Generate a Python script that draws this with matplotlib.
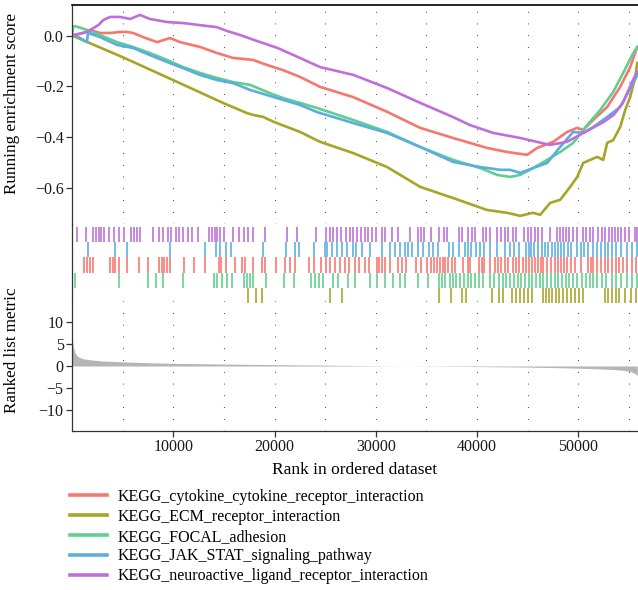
import matplotlib
matplotlib.use("Agg")
import matplotlib.pyplot as plt
from matplotlib.lines import Line2D

plt.rcParams['font.family'] = ['Liberation Serif', 'DejaVu Serif']

N_RANK = 55830

set_names = ["KEGG_cytokine_cytokine_receptor_interaction",
             "KEGG_ECM_receptor_interaction",
             "KEGG_FOCAL_adhesion",
             "KEGG_JAK_STAT_signaling_pathway",
             "KEGG_neuroactive_ligand_receptor_interaction"]
set_colors = ["#F8766D", "#A8A427", "#5FCF8F", "#5AAEDD", "#BF6FDB"]

# running enrichment score curves (rank, ES)
cyto_rank = [0, 1087, 1778, 2766, 3754, 4742, 5434, 6027, 7015, 8398, 9682, 10670, 12646,
             14326, 15907, 17883, 19266, 20847, 22526, 24502, 27763, 31122, 34382, 37643,
             41002, 42978, 44954, 45941, 47522, 48905, 49893, 50486, 51474, 52857, 54142,
             55130, 55830]
cyto_es = [0, 0.010, 0.022, 0.010, 0.010, 0.014, 0.014, 0.010, -0.006, -0.026, -0.010, -0.026,
           -0.045, -0.069, -0.088, -0.096, -0.116, -0.136, -0.163, -0.202, -0.242, -0.300,
           -0.363, -0.403, -0.442, -0.458, -0.469, -0.442, -0.418, -0.379, -0.363, -0.371,
           -0.332, -0.281, -0.202, -0.124, -0.045]

ecm_rank = [0, 4940, 9979, 14919, 17290, 17883, 18871, 19958, 22526, 24502, 27763, 31122,
            34382, 37643, 41002, 42978, 44262, 45546, 46238, 47225, 48214, 49202, 49893,
            50486, 51869, 52462, 52857, 53450, 54142, 54636, 55130, 55624, 55830]
ecm_es = [0, -0.084, -0.175, -0.265, -0.305, -0.312, -0.320, -0.340, -0.379, -0.418, -0.462,
          -0.517, -0.595, -0.639, -0.686, -0.697, -0.709, -0.697, -0.705, -0.658, -0.646,
          -0.595, -0.556, -0.501, -0.477, -0.489, -0.422, -0.411, -0.360, -0.293, -0.242,
          -0.163, -0.108]

focal_rank = [0, 99, 296, 1482, 2766, 4446, 6027, 7706, 9386, 10966, 12646, 14326, 15907,
              17586, 19266, 20847, 22526, 24206, 27763, 31122, 34382, 37643, 40310, 41990,
              43274, 44262, 45546, 46930, 48214, 49498, 50882, 52166, 53450, 54438, 55426,
              55830]
focal_es = [0, 0.035, 0.037, 0.022, 0.002, -0.026, -0.045, -0.069, -0.096, -0.124, -0.147,
            -0.167, -0.183, -0.194, -0.222, -0.246, -0.265, -0.285, -0.332, -0.379, -0.438,
            -0.489, -0.521, -0.548, -0.556, -0.548, -0.521, -0.489, -0.458, -0.422, -0.352,
            -0.293, -0.222, -0.147, -0.069, -0.045]

jak_rank = [0, 296, 1482, 1581, 2766, 4446, 6027, 7706, 9386, 10966, 12646, 14326, 15907,
            17586, 19266, 20847, 22526, 24206, 27763, 31122, 34382, 37643, 40310, 42286,
            43274, 44262, 45546, 46930, 48214, 49498, 50486, 51474, 52857, 54142, 55426,
            55830]
jak_es = [0, 0.002, -0.026, 0.010, -0.006, -0.037, -0.049, -0.077, -0.104, -0.128, -0.155,
          -0.175, -0.187, -0.214, -0.234, -0.253, -0.273, -0.301, -0.344, -0.383, -0.438,
          -0.497, -0.517, -0.528, -0.528, -0.540, -0.521, -0.501, -0.438, -0.379, -0.383,
          -0.360, -0.320, -0.281, -0.187, -0.155]

neuro_rank = [0, 1500, 2100, 2600, 3100, 3750, 4750, 5750, 6700, 7700, 9400, 11000, 12600,
              14300, 15300, 16600, 18600, 20300, 22500, 24500, 27800, 31100, 34400, 37600,
              39300, 41600, 44300, 45900, 47200, 48900, 50500, 52500, 53500, 54400, 55400,
              55830]
neuro_es = [0, 0.014, 0.029, 0.041, 0.061, 0.073, 0.073, 0.065, 0.081, 0.065, 0.053, 0.049,
            0.041, 0.033, 0.018, 0.002, -0.026, -0.049, -0.088, -0.124, -0.155, -0.206,
            -0.265, -0.320, -0.352, -0.383, -0.403, -0.418, -0.430, -0.418, -0.383, -0.340,
            -0.312, -0.265, -0.175, -0.143]

# gene hit positions (rank) for each set
cyto_hits = [1192, 1448, 1741, 2107, 3754, 4010, 4229, 4668, 5473, 6571, 7522, 8620, 8876,
             9132, 9425, 9718, 11072, 12060, 13157, 14475, 14731, 15206, 16084, 16816, 17109,
             17841, 18756, 19012, 20111, 21061, 21573, 22049, 23403, 23879, 24611, 25086,
             25525, 25964, 26440, 26915, 27354, 27903, 28379, 28891, 29367, 30099, 30355,
             30647, 30940, 31452, 32184, 32550, 33026, 33940, 34490, 35038, 35478, 35770,
             36063, 36319, 36612, 36868, 37161, 37527, 37782, 38624, 39063, 39356, 40161,
             40454, 40710, 41259, 41808, 42064, 42356, 42722, 43088, 43527, 43820, 44186,
             44552, 44845, 45138, 45430, 45723, 46016, 46307, 46564, 46930, 47296, 47662,
             48028, 48284, 48577, 48870, 49236, 49675, 50223, 50955, 51211, 51504, 51870,
             52235, 52601, 52967, 53334, 53699, 54065, 54431, 54797, 55346, 55712]
ecm_hits = [17402, 18207, 18756, 25525, 26622, 36210, 37417, 38515, 38880, 41442, 42174,
            42540, 43454, 43893, 44259, 44625, 44991, 45466, 46564, 46820, 47113, 47406,
            47772, 48138, 48504, 48870, 49235, 49675, 50114, 50480, 52601, 52894, 53334,
            53699, 54065, 54614, 55163, 55712]
focal_hits = [278, 4595, 7522, 8254, 8986, 10962, 13999, 14365, 14840, 15353, 15829, 17036,
              17292, 17548, 17841, 19121, 20951, 21939, 23622, 23988, 24354, 24793, 25818,
              26257, 27281, 27903, 29477, 30099, 30940, 31672, 32404, 32843, 34124, 35112,
              36210, 36502, 36868, 37307, 37599, 37965, 38331, 38697, 39063, 39429, 39795,
              40161, 40600, 41259, 41698, 42174, 42540, 42905, 43271, 43637, 44003, 44369,
              44735, 45100, 45466, 45832, 46198, 46564, 46930, 47296, 47662, 48028, 48393,
              48759, 49125, 49491, 49858, 50333, 50772, 51138, 51504, 51870, 52309, 52785,
              53334, 53773, 54248, 54797, 55346, 55780]
jak_hits = [1558, 4229, 5473, 9681, 13157, 14182, 14621, 15170, 15719, 18865, 21134, 22049,
            22415, 23879, 24976, 25232, 25708, 26183, 26696, 27171, 27720, 28086, 28635,
            29477, 30574, 31379, 31928, 32404, 32843, 33209, 33575, 34123, 34672, 35221,
            35697, 36136, 37234, 37599, 38258, 38770, 39137, 39429, 39868, 40344, 40710,
            41332, 41991, 42722, 43271, 43637, 44186, 44845, 45100, 45357, 45650, 46016,
            46381, 46674, 47040, 47406, 47699, 48028, 48284, 48577, 48943, 49308, 49858,
            50223, 50589, 50955, 51504, 51870, 52235, 52601, 52894, 53334, 53699, 54248,
            54797, 55346, 55780]
neuro_hits = [460, 1375, 2107, 2400, 2656, 2912, 3205, 3644, 4193, 4668, 5107, 5839, 6132,
              6425, 6681, 8035, 8620, 8986, 9498, 9791, 10230, 10596, 10998, 11437, 11876,
              12425, 13523, 13816, 14109, 14365, 14621, 14987, 15902, 16451, 17000, 17366,
              17914, 19012, 21207, 22232, 24061, 25086, 25452, 25817, 26183, 26549, 27062,
              27427, 27793, 28159, 28525, 28891, 29257, 29623, 29989, 30574, 30940, 31635,
              32184, 33392, 34197, 34490, 34746, 35478, 36210, 36759, 37052, 38222, 38515,
              39137, 39503, 39795, 40600, 40893, 41259, 41991, 42356, 42722, 43088, 43527,
              43820, 44625, 44991, 45357, 45723, 46016, 46455, 47187, 47918, 48211, 48504,
              48797, 49126, 49492, 49858, 50480, 50772, 51138, 51504, 51943, 52309, 52601,
              53041, 53334, 53627, 53920, 54249, 54615, 54980, 55602, 55780]

# ranked list metric (rank, value)
metric_rank = [1, 50, 150, 300, 500, 800, 1200, 2000, 3000, 5000, 7500, 10000, 15000, 20000,
               25000, 28000, 30000, 32000, 34000, 36000, 40000, 45000, 48000, 50000, 52000,
               53500, 54500, 55200, 55600, 55830]
metric_val = [8.0, 6.0, 4.2, 3.0, 2.3, 1.9, 1.6, 1.35, 1.15, 0.95, 0.75, 0.6, 0.45, 0.3, 0.2,
              0.12, 0.06, 0.02, -0.02, -0.05, -0.12, -0.25, -0.38, -0.5, -0.65, -0.8, -1.0,
              -1.3, -1.7, -2.2]

es_ranks = [cyto_rank, ecm_rank, focal_rank, jak_rank, neuro_rank]
es_vals = [cyto_es, ecm_es, focal_es, jak_es, neuro_es]
hits = [cyto_hits, ecm_hits, focal_hits, jak_hits, neuro_hits]
rug_row = [2, 0, 1, 3, 4]  # row index from bottom

W, H = 638, 590
fig = plt.figure(figsize=(W / 100, H / 100), dpi=100)

def fy(py):
    return 1 - py / H

left = 72 / W
width = 1 - left
ax1 = fig.add_axes([left, fy(224), width, fy(5) - fy(224)])
ax2 = fig.add_axes([left, fy(301), width, fy(224) - fy(301)])
ax3 = fig.add_axes([left, fy(431), width, fy(301) - fy(431)])
ax2.set_zorder(3)
ax2.patch.set_alpha(0)

xmax = 55900
grid_x = list(range(5000, 56000, 5000))
dot_style = dict(color='black', lw=0.8, linestyle=(0, (0.6, 10.0)), zorder=0)

# top panel
for r, e, c in zip(es_ranks, es_vals, set_colors):
    ax1.plot(r, e, color=c, lw=1.9, solid_joinstyle='round', zorder=2)
for gx in grid_x:
    ax1.axvline(gx, **dot_style)
ax1.set_xlim(0, xmax)
ax1.set_ylim(-0.741, 0.120)
ax1.set_yticks([0.0, -0.2, -0.4, -0.6])
ax1.set_yticklabels(["0.0", "\u22120.2", "\u22120.4", "\u22120.6"])
ax1.set_xticks([])
for s in ['bottom', 'right']:
    ax1.spines[s].set_visible(False)
ax1.spines['left'].set_color('#333333')
ax1.spines['top'].set_color('black')
ax1.spines['left'].set_linewidth(0.9)
ax1.spines['top'].set_linewidth(1.2)
ax1.set_ylabel("Running enrichment score", fontsize=12.3)
ax1.yaxis.set_label_coords(-0.092, 0.55)

# rug panel
for h, c, row in zip(hits, set_colors, rug_row):
    ax2.vlines(h, row, row + 1, color=c, lw=1.3, alpha=0.9, clip_on=False)
ax2.set_xlim(0, xmax)
ax2.set_ylim(0.13, 5.2)
ax2.set_xticks([])
ax2.set_yticks([])
for s in ['top', 'bottom', 'right']:
    ax2.spines[s].set_visible(False)
ax2.spines['left'].set_color('#333333')
ax2.spines['left'].set_linewidth(0.9)

# ranked list metric panel
ax3.fill_between(metric_rank, 0, metric_val, color='#B5B5B5', lw=0, zorder=2)
for gx in grid_x:
    ax3.axvline(gx, **dot_style)
ax3.set_xlim(0, xmax)
ax3.set_ylim(-14.8, 14.8)
ax3.set_yticks([10, 5, 0, -5, -10])
ax3.set_yticklabels(["10", "5", "0", "\u22125", "\u221210"])
ax3.set_xticks([10000, 20000, 30000, 40000, 50000])
for s in ['top', 'right']:
    ax3.spines[s].set_visible(False)
for s in ['left', 'bottom']:
    ax3.spines[s].set_color('#333333')
    ax3.spines[s].set_linewidth(0.9)
ax3.set_xlabel("Rank in ordered dataset", fontsize=12.5, labelpad=5)
ax3.set_ylabel("Ranked list metric", fontsize=12.3)
ax3.yaxis.set_label_coords(-0.092, 0.62)

for ax in (ax1, ax3):
    ax.tick_params(axis='both', labelsize=11.5, length=4, width=0.9, color='#333333',
                   labelcolor='#1a1a1a', pad=2)

handles = [Line2D([0], [0], color=c, lw=2.6) for c in set_colors]
fig.legend(handles, set_names, loc='upper left', bbox_to_anchor=(70 / W, fy(489)),
           frameon=False, fontsize=11.5, handlelength=2.3, handletextpad=0.65,
           labelspacing=0.24, borderpad=0, borderaxespad=0)

fig.savefig("out.png", dpi=100)
